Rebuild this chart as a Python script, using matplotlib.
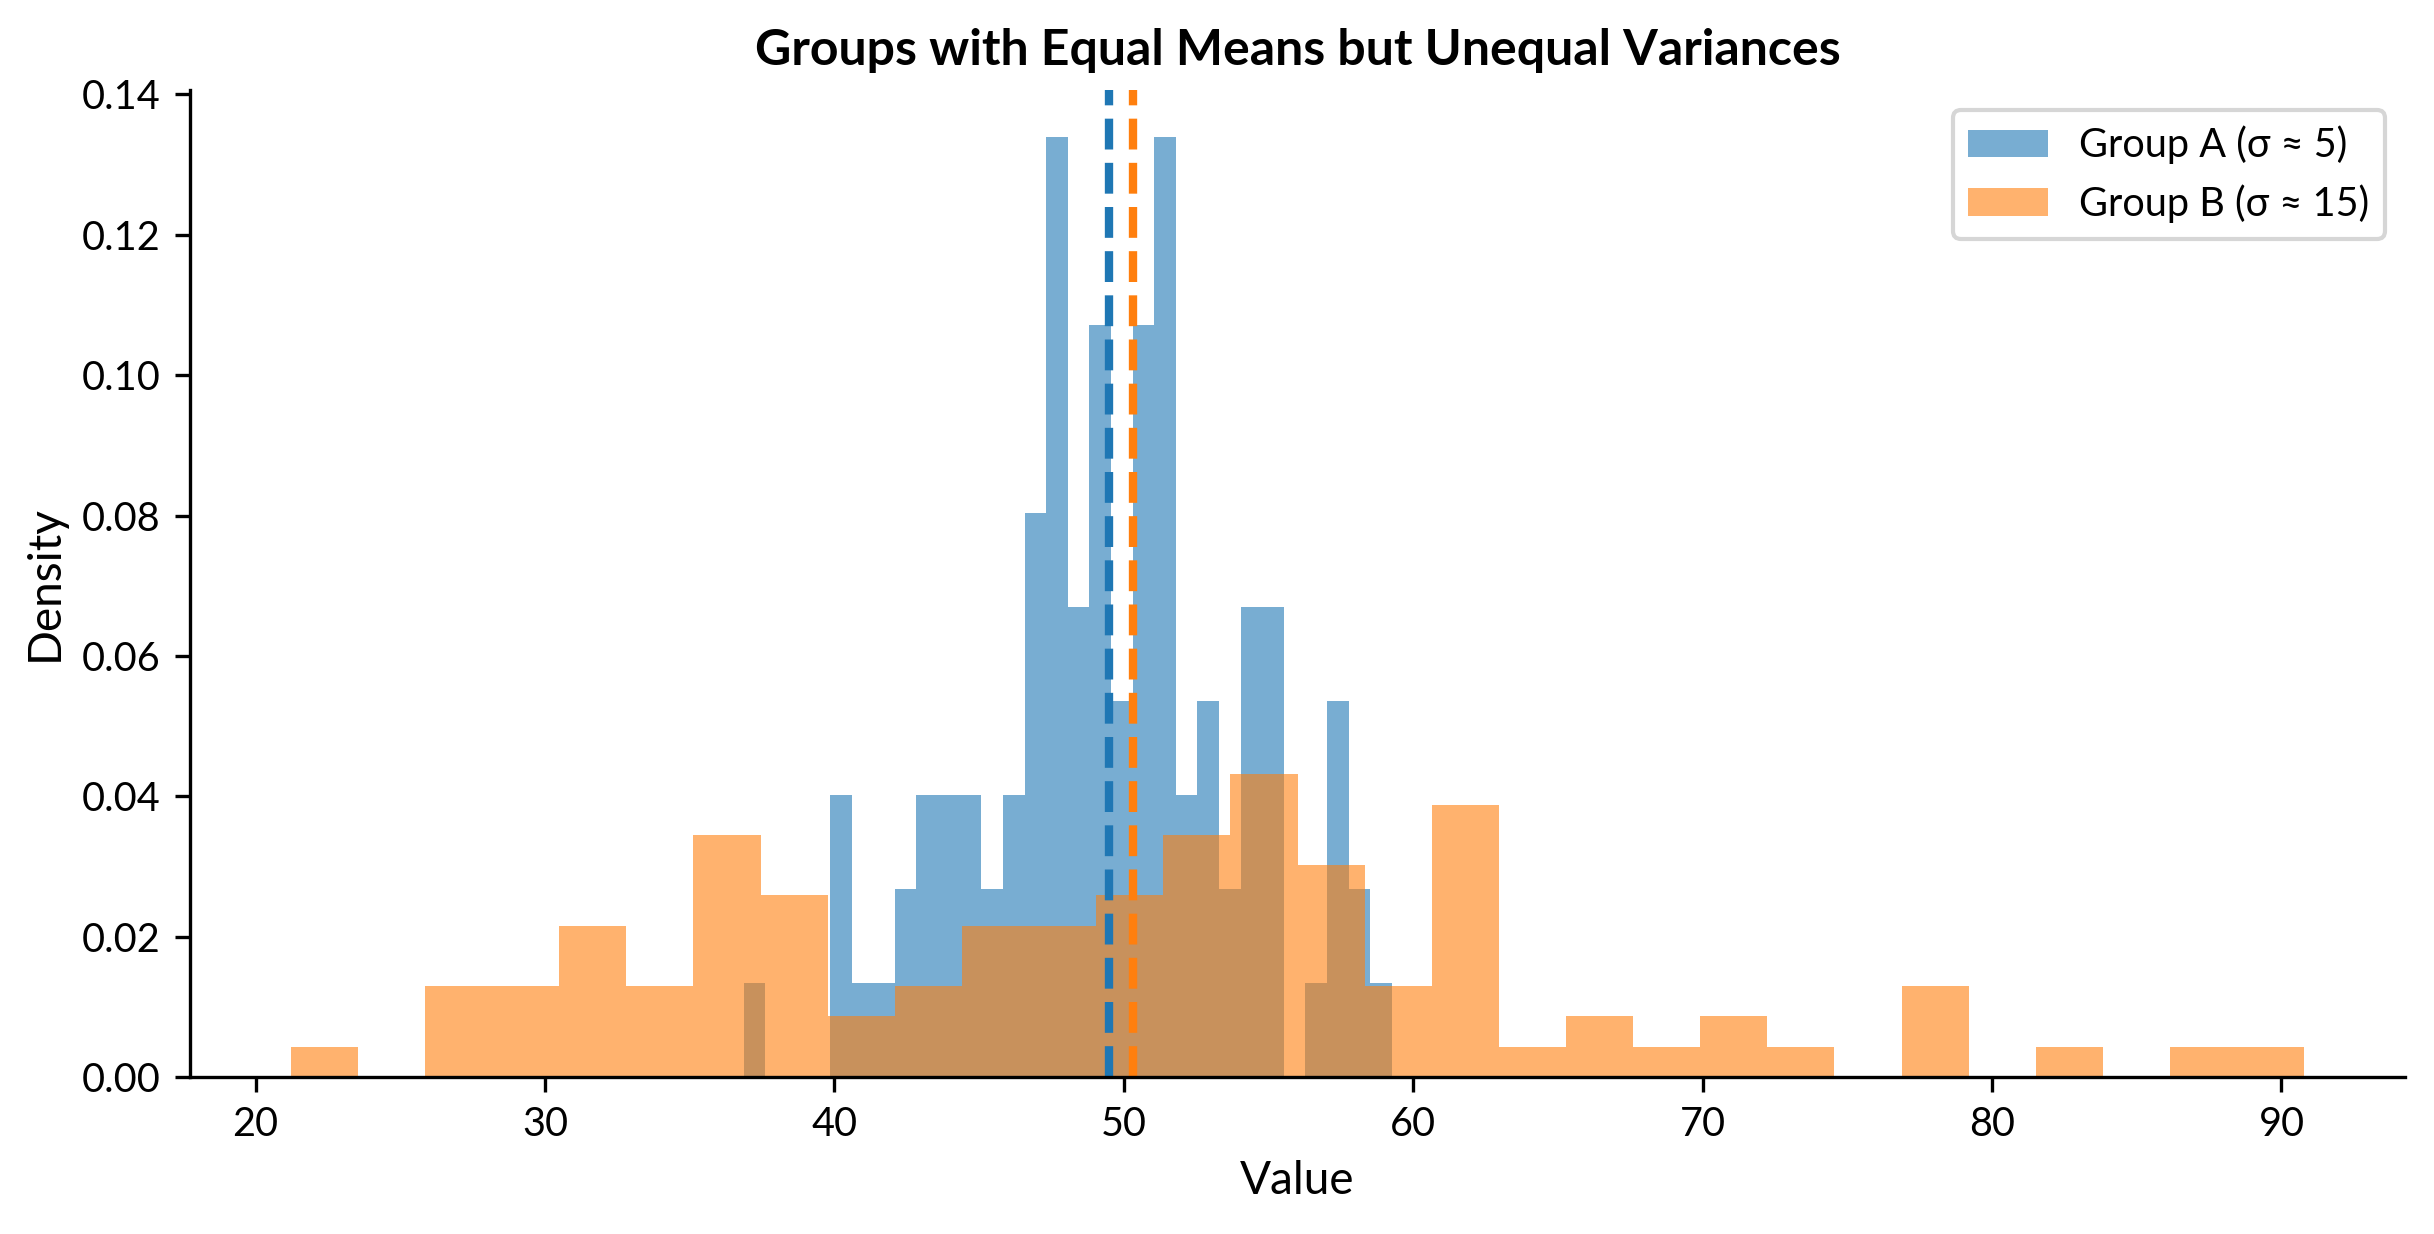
import numpy as np
from matplotlib import pyplot as plt

# counts per bin (100 values per group, 30 bins each)
a_range = (36.86, 59.26)
a_counts = [1, 0, 0, 0, 3, 1, 1, 2, 3, 3,
            3, 2, 3, 6, 10, 5, 8, 4, 8, 10,
            3, 4, 2, 5, 5, 0, 1, 4, 2, 1]
b_range = (21.21, 90.79)
b_counts = [1, 0, 3, 3, 5, 3, 8, 6, 2, 3,
            5, 5, 6, 8, 10, 7, 3, 9, 1, 2,
            1, 2, 1, 0, 3, 0, 1, 0, 1, 1]
mean_a = 49.48
mean_b = 50.31
labels = ['Group A (σ ≈ 5)', 'Group B (σ ≈ 15)']

plt.rcParams['font.family'] = ['Lato', 'DejaVu Sans']

a_edges = np.linspace(a_range[0], a_range[1], len(a_counts) + 1)
b_edges = np.linspace(b_range[0], b_range[1], len(b_counts) + 1)
a_mid = (a_edges[:-1] + a_edges[1:]) / 2
b_mid = (b_edges[:-1] + b_edges[1:]) / 2

fig = plt.figure(figsize=(2434 / 300, 1234 / 300), dpi=300)
ax = fig.add_axes([190 / 2434, 1 - 1077 / 1234, (2405 - 190) / 2434, (1077 - 90) / 1234])

ax.hist(a_mid, bins=a_edges, weights=a_counts, density=True, alpha=0.6, color='C0', label=labels[0])
ax.hist(b_mid, bins=b_edges, weights=b_counts, density=True, alpha=0.6, color='C1', label=labels[1])
ax.axvline(mean_a, color='C0', linestyle='--', linewidth=2)
ax.axvline(mean_b, color='C1', linestyle='--', linewidth=2)

ax.set_title('Groups with Equal Means but Unequal Variances', fontsize=12, fontweight='bold')
ax.set_xlabel('Value', fontsize=11)
ax.set_ylabel('Density', fontsize=11)
ax.yaxis.set_major_formatter(plt.FormatStrFormatter('%.2f'))
ax.tick_params(labelsize=9.5)
ax.spines['top'].set_visible(False)
ax.spines['right'].set_visible(False)
ax.legend(fontsize=9.5)

fig.savefig('out.png', dpi=300)
